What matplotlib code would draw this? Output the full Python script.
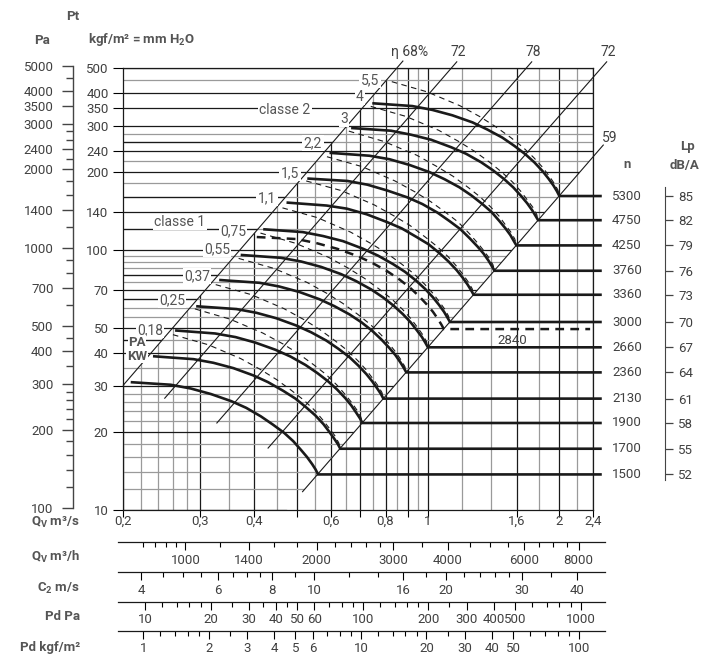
import numpy as np
import matplotlib.pyplot as plt
from matplotlib.path import Path

plt.rcParams['font.family'] = ['Roboto', 'DejaVu Sans']
plt.rcParams['mathtext.fontset'] = 'custom'
plt.rcParams['mathtext.rm'] = 'Roboto:bold'
plt.rcParams['mathtext.it'] = 'Roboto:bold'
plt.rcParams['mathtext.bf'] = 'Roboto:bold'

# ---------------- values ----------------
# rpm curves: flow Q (m3/s) and total pressure Pt (kgf/m2); last point is on the 59 line
q_5300 = [0.746, 0.922, 1.025, 1.139, 1.267, 1.371, 1.484, 1.581, 1.676, 1.757, 1.834, 1.893, 1.943, 1.980, 2.006]
p_5300 = [366, 357, 345, 329, 309, 290, 270, 251, 233, 217, 201, 188, 177, 168, 161]
q_4750 = [0.667, 0.824, 0.916, 1.018, 1.132, 1.225, 1.327, 1.413, 1.498, 1.571, 1.639, 1.692, 1.737, 1.769, 1.793]
p_4750 = [294, 287, 277, 265, 248, 234, 217, 202, 187, 174, 161, 151, 142, 135, 130]
q_4250 = [0.595, 0.735, 0.817, 0.908, 1.009, 1.092, 1.182, 1.259, 1.335, 1.400, 1.461, 1.508, 1.548, 1.577, 1.598]
p_4250 = [236, 230, 223, 212, 199, 187, 174, 162, 150, 140, 129, 121, 114, 108, 104]
q_3760 = [0.529, 0.654, 0.727, 0.808, 0.899, 0.972, 1.053, 1.122, 1.189, 1.247, 1.301, 1.343, 1.379, 1.404, 1.423]
p_3760 = [188, 184, 178, 169, 159, 150, 139, 129, 120, 111, 103, 96.8, 90.9, 86.5, 83.1]
q_3360 = [0.474, 0.586, 0.652, 0.724, 0.805, 0.871, 0.943, 1.005, 1.065, 1.117, 1.165, 1.203, 1.235, 1.258, 1.275]
p_3360 = [152, 148, 144, 137, 128, 121, 112, 105, 97, 90.1, 83.6, 78.2, 73.5, 69.9, 67.2]
q_3000 = [0.419, 0.517, 0.575, 0.639, 0.710, 0.769, 0.832, 0.887, 0.940, 0.986, 1.028, 1.061, 1.090, 1.110, 1.125]
p_3000 = [120, 117, 113, 108, 101, 95, 88.2, 82.3, 76.2, 70.8, 65.7, 61.5, 57.8, 54.9, 52.8]
q_2660 = [0.372, 0.460, 0.512, 0.569, 0.632, 0.684, 0.741, 0.789, 0.836, 0.877, 0.915, 0.944, 0.970, 0.988, 1.001]
p_2660 = [95.6, 93.2, 90.2, 86, 80.7, 75.9, 70.5, 65.7, 60.9, 56.6, 52.5, 49.1, 46.2, 43.9, 42.2]
q_2360 = [0.332, 0.411, 0.456, 0.507, 0.564, 0.610, 0.661, 0.704, 0.746, 0.782, 0.816, 0.843, 0.865, 0.881, 0.893]
p_2360 = [76.6, 74.7, 72.3, 68.9, 64.6, 60.8, 56.5, 52.7, 48.8, 45.3, 42, 39.4, 37, 35.2, 33.8]
q_2130 = [0.294, 0.364, 0.404, 0.449, 0.499, 0.540, 0.585, 0.623, 0.661, 0.693, 0.723, 0.746, 0.766, 0.781, 0.791]
p_2130 = [60.7, 59.2, 57.3, 54.6, 51.2, 48.2, 44.8, 41.7, 38.7, 35.9, 33.3, 31.2, 29.3, 27.9, 26.8]
q_1900 = [0.263, 0.325, 0.362, 0.402, 0.447, 0.484, 0.524, 0.558, 0.591, 0.620, 0.647, 0.668, 0.686, 0.699, 0.708]
p_1900 = [49, 47.7, 46.2, 44, 41.3, 38.9, 36.1, 33.6, 31.2, 29, 26.9, 25.2, 23.6, 22.5, 21.6]
q_1700 = [0.234, 0.290, 0.322, 0.358, 0.398, 0.430, 0.466, 0.497, 0.526, 0.552, 0.576, 0.594, 0.610, 0.622, 0.630]
p_1700 = [39, 38, 36.8, 35.1, 32.9, 31, 28.7, 26.8, 24.8, 23.1, 21.4, 20, 18.8, 17.9, 17.2]
q_1500 = [0.208, 0.257, 0.286, 0.318, 0.354, 0.383, 0.414, 0.441, 0.468, 0.491, 0.512, 0.528, 0.543, 0.553, 0.560]
p_1500 = [31, 30.3, 29.3, 27.9, 26.2, 24.7, 22.9, 21.3, 19.8, 18.4, 17, 16, 15, 14.3, 13.7]
q_2840 = [0.405, 0.501, 0.557, 0.619, 0.688, 0.744, 0.806, 0.858, 0.910, 0.954, 0.995, 1.028, 1.055, 1.075, 1.089]
p_2840 = [112, 110, 106, 101, 94.8, 89.3, 82.9, 77.3, 71.6, 66.5, 61.7, 57.8, 54.3, 51.6, 49.6]

rpm = [5300, 4750, 4250, 3760, 3360, 3000, 2660, 2360, 2130, 1900, 1700, 1500]
lp_dba = [85, 82, 79, 76, 73, 70, 67, 64, 61, 58, 55, 52]
rpm_line_end_q = 2.51
line_2840_end_q = 2.36

# absorbed power curves (thin dashed), labelled in kW
q_kw5_5 = [0.827, 0.996, 1.186, 1.318, 1.434, 1.552, 1.654, 1.753, 1.829, 1.898, 1.948, 1.990, 2.006]
p_kw5_5 = [443, 405, 358, 325, 297, 270, 248, 226, 209, 193, 181, 170, 161]
q_kw4 = [0.740, 0.890, 1.060, 1.178, 1.282, 1.388, 1.479, 1.567, 1.635, 1.696, 1.742, 1.779, 1.793]
p_kw4 = [356, 326, 288, 261, 239, 217, 199, 182, 168, 155, 146, 137, 130]
q_kw3 = [0.659, 0.793, 0.944, 1.050, 1.142, 1.237, 1.318, 1.396, 1.457, 1.512, 1.552, 1.585, 1.598]
p_kw3 = [286, 261, 231, 209, 192, 174, 160, 146, 135, 124, 117, 110, 104]
q_kw2_2 = [0.587, 0.706, 0.841, 0.935, 1.017, 1.101, 1.174, 1.243, 1.297, 1.346, 1.382, 1.412, 1.423]
p_kw2_2 = [228, 209, 184, 167, 153, 139, 128, 116, 107, 99.2, 93.3, 87.6, 83.1]
q_kw1_5 = [0.526, 0.633, 0.753, 0.837, 0.911, 0.987, 1.051, 1.114, 1.162, 1.206, 1.238, 1.265, 1.275]
p_kw1_5 = [184, 169, 149, 135, 124, 112, 103, 94.1, 86.9, 80.3, 75.4, 70.9, 67.2]
q_kw1_1 = [0.464, 0.558, 0.665, 0.739, 0.804, 0.871, 0.928, 0.983, 1.026, 1.064, 1.093, 1.116, 1.125]
p_kw1_1 = [145, 133, 117, 106, 97.3, 88.2, 81.1, 73.9, 68.3, 63.1, 59.3, 55.7, 52.8]
q_kw0_75 = [0.413, 0.497, 0.592, 0.658, 0.716, 0.775, 0.826, 0.875, 0.913, 0.947, 0.972, 0.993, 1.001]
p_kw0_75 = [116, 106, 93.6, 84.9, 77.7, 70.5, 64.8, 59.1, 54.6, 50.4, 47.4, 44.5, 42.2]
q_kw0_55 = [0.368, 0.443, 0.528, 0.587, 0.638, 0.691, 0.736, 0.780, 0.814, 0.845, 0.867, 0.886, 0.893]
p_kw0_55 = [92.7, 84.9, 75, 68, 62.3, 56.5, 51.9, 47.3, 43.7, 40.4, 37.9, 35.6, 33.8]
q_kw0_37 = [0.326, 0.393, 0.467, 0.520, 0.565, 0.612, 0.652, 0.691, 0.721, 0.748, 0.768, 0.785, 0.791]
p_kw0_37 = [73.5, 67.3, 59.5, 53.9, 49.4, 44.8, 41.2, 37.5, 34.7, 32, 30.1, 28.3, 26.8]
q_kw0_25 = [0.292, 0.351, 0.418, 0.465, 0.506, 0.548, 0.584, 0.619, 0.645, 0.670, 0.688, 0.702, 0.708]
p_kw0_25 = [59.3, 54.2, 47.9, 43.5, 39.8, 36.1, 33.2, 30.2, 27.9, 25.8, 24.2, 22.8, 21.6]
q_kw0_18 = [0.260, 0.313, 0.372, 0.414, 0.450, 0.488, 0.520, 0.551, 0.574, 0.596, 0.612, 0.625, 0.630]
p_kw0_18 = [47.2, 43.2, 38.2, 34.6, 31.7, 28.7, 26.4, 24.1, 22.2, 20.5, 19.3, 18.1, 17.2]
kw_text = ['5,5', '4', '3', '2,2', '1,5', '1,1', '0,75', '0,55', '0,37', '0,25', '0,18']

# efficiency lines (low end, high end)
eta_text = ['\u03b7 68%', '72', '78', '72', '59']
eta_q_low = [0.200, 0.249, 0.328, 0.430, 0.516]
eta_p_low = [30.2, 26.9, 21.6, 17.3, 11.76]
eta_q_high = [0.877, 1.166, 1.733, 2.576, 2.530]
eta_p_high = [531.7, 528.0, 528.0, 528.0, 252.8]

# grid
grid_q_major = [0.2, 0.3, 0.4, 0.5, 0.6, 0.7, 0.8, 0.9, 1.0, 1.6, 2.0, 2.4]
grid_q_minor = [0.22, 0.24, 0.26, 0.28, 0.35, 0.45, 0.55, 0.65, 0.75, 0.85, 0.95, 1.2, 1.4, 1.8, 2.2]
grid_p_major = [10, 20, 30, 40, 50, 70, 100, 140, 200, 240, 300, 350, 400, 500]
grid_p_minor = [12, 14, 16, 18, 22, 24, 26, 28, 35, 45, 55, 60, 65, 75, 80, 85, 90, 95,
                120, 160, 180, 220, 260, 280, 450]
label_line_p = [260, 160, 120, 80, 65, 45]

q_ticks = [0.2, 0.3, 0.4, 0.5, 0.6, 0.7, 0.8, 0.9, 1.0, 1.6, 2.0, 2.4]
q_tick_text = ['0,2', '0,3', '0,4', '', '0,6', '', '0,8', '', '1', '1,6', '2', '2,4']
p_ticks = [10, 20, 30, 40, 50, 70, 100, 140, 200, 240, 300, 350, 400, 500]

kgf_to_pa = 9.81
pa_major = [100, 200, 300, 400, 500, 700, 1000, 1400, 2000, 2400, 3000, 3500, 4000, 5000]
pa_minor = [120, 140, 160, 180, 220, 240, 260, 280, 350, 450, 600, 800, 900,
            1200, 1600, 1800, 2200, 2600, 2800, 4500]

# bottom scales
m3h_per_m3s = 3600
c2_per_m3s = 18.2
half_rho = 0.6
m3h_major = [1000, 1400, 2000, 3000, 4000, 6000, 8000]
m3h_minor = [800, 850, 900, 950, 1200, 1600, 1800, 2200, 2400, 2600, 2800, 3500,
             4500, 5000, 5500, 6500, 7000, 7500]
c2_major = [4, 6, 8, 10, 16, 20, 30, 40]
c2_minor = [4.5, 5, 5.5, 6.5, 7, 7.5, 9, 12, 14, 18, 22, 24, 26, 28, 35]
pd_major = [10, 20, 30, 40, 50, 60, 100, 200, 300, 400, 500, 1000]
pd_minor = [12, 14, 16, 18, 25, 35, 45, 70, 80, 90, 120, 140, 160, 180, 250, 600, 700, 800, 900]
pdk_major = [1, 2, 3, 4, 5, 6, 10, 20, 30, 40, 50, 100]
pdk_minor = [1.2, 1.4, 1.6, 1.8, 2.5, 7, 8, 9, 12, 14, 16, 18, 25, 60, 70, 80, 90]

rpm_q = [q_5300, q_4750, q_4250, q_3760, q_3360, q_3000, q_2660, q_2360, q_2130, q_1900, q_1700, q_1500]
rpm_p = [p_5300, p_4750, p_4250, p_3760, p_3360, p_3000, p_2660, p_2360, p_2130, p_1900, p_1700, p_1500]
kw_q = [q_kw5_5, q_kw4, q_kw3, q_kw2_2, q_kw1_5, q_kw1_1, q_kw0_75, q_kw0_55, q_kw0_37, q_kw0_25, q_kw0_18]
kw_p = [p_kw5_5, p_kw4, p_kw3, p_kw2_2, p_kw1_5, p_kw1_1, p_kw0_75, p_kw0_55, p_kw0_37, p_kw0_25, p_kw0_18]

# ---------------- layout ----------------
W, H = 701, 655
X0, X1, Y0, Y1 = 123.3, 593.3, 510.0, 68.0
Q_MIN, Q_MAX, P_MIN, P_MAX = 0.2, 2.4, 10, 500
INK = '#1a1a1a'
GREY = '#9a9a9a'
TXT = '#404040'
HEAD = '#555555'


def box(x0, y0, x1, y1):
    return [x0 / W, 1 - y1 / H, (x1 - x0) / W, (y1 - y0) / H]


def q_at(x):
    return Q_MIN * (Q_MAX / Q_MIN) ** ((x - X0) / (X1 - X0))


def p_at(y):
    return P_MIN * (P_MAX / P_MIN) ** ((Y0 - y) / (Y0 - Y1))


def ftext(x, y, s, **kw):
    kw.setdefault('color', TXT)
    kw.setdefault('fontsize', 9.5)
    kw.setdefault('va', 'center')
    fig.text(x / W, 1 - y / H, s, **kw)


def along(i, p):
    s = np.log(eta_p_high[i] / eta_p_low[i]) / np.log(eta_q_high[i] / eta_q_low[i])
    return eta_q_low[i] * (p / eta_p_low[i]) ** (1 / s)


fig = plt.figure(figsize=(W / 100, H / 100), dpi=100)
ax = fig.add_axes(box(X0, Y1, X1, Y0))
ax.set_xscale('log')
ax.set_yscale('log')
ax.set_xlim(Q_MIN, Q_MAX)
ax.set_ylim(P_MIN, P_MAX)
for s in ax.spines.values():
    s.set_linewidth(0.9)
    s.set_color(INK)
ax.set_xticks(q_ticks)
ax.set_xticklabels(q_tick_text)
ax.set_yticks(p_ticks)
ax.set_yticklabels([str(v) for v in p_ticks])
ax.minorticks_off()
ax.tick_params(axis='x', length=5, width=0.8, pad=-1.5, labelsize=9.5, labelcolor=TXT)
ax.tick_params(axis='y', length=7.2, width=0.8, pad=3.4, labelsize=9.5, labelcolor=TXT)

# the grid stops at the 68% line (verticals) and at the 59 line (horizontals)
lo, hi = 1.0, 3000.0
right_of_68 = Path([(along(0, lo), lo), (along(0, hi), hi), (20, hi), (20, lo)])
left_of_68 = Path([(0.01, lo), (along(0, lo), lo), (along(0, hi), hi), (0.01, hi)])
left_of_59 = Path([(0.01, lo), (along(4, lo), lo), (along(4, hi), hi), (0.01, hi)])

for qs, col in ((grid_q_minor, GREY), (grid_q_major, INK)):
    lc = ax.vlines(qs, P_MIN, P_MAX, colors=col, lw=0.9)
    lc.set_clip_path(right_of_68, ax.transData)
for ps, col in ((grid_p_minor, GREY), (grid_p_major, INK)):
    lc = ax.hlines(ps, Q_MIN, Q_MAX, colors=col, lw=0.9)
    lc.set_clip_path(left_of_59, ax.transData)
lc = ax.hlines(label_line_p, Q_MIN, Q_MAX, colors=INK, lw=0.9)
lc.set_clip_path(left_of_68, ax.transData)

# efficiency lines
for i in range(len(eta_text)):
    ax.plot([eta_q_low[i], eta_q_high[i]], [eta_p_low[i], eta_p_high[i]],
            color=INK, lw=0.8, clip_on=False, zorder=3)
eta_text_xy = [(410, 52), (458, 52), (533, 52), (608, 52), (610, 138)]
for t, (x, y) in zip(eta_text, eta_text_xy):
    ftext(x, y, t, ha='center', fontsize=10)

# absorbed power curves
for qs, ps in zip(kw_q, kw_p):
    ax.plot(qs, ps, color=INK, lw=0.8, dashes=(5, 4), zorder=3)

# rpm curves with their horizontal run to the rpm label
for n, qs, ps in zip(rpm, rpm_q, rpm_p):
    ax.plot(qs + [rpm_line_end_q], ps + [ps[-1]], color=INK, lw=1.9, zorder=4,
            clip_on=False, solid_joinstyle='miter', solid_capstyle='butt')
    ax.annotate(str(n), xy=(612, ps[-1]), xycoords=('figure pixels', 'data'),
                va='center', ha='left', fontsize=9.5, color=TXT)

ax.plot(q_2840 + [line_2840_end_q], p_2840 + [p_2840[-1]], color=INK, lw=1.8,
        dashes=(3.5, 2.5), zorder=4)
ftext(512, 340, '2840', ha='center')

# power labels on the left
kw_xy = [(370, 80), (360, 97), (344, 119), (313, 143), (290, 173), (267, 198),
         (233, 231), (217, 249), (197, 276), (172, 300), (150, 330)]
for t, (x, y) in zip(kw_text, kw_xy):
    ftext(x, y, t, ha='center', color=HEAD, fontsize=10,
          bbox=dict(fc='white', ec='none', pad=1.0))
ftext(285, 110, 'classe 2', ha='center', color=HEAD, fontsize=10,
      bbox=dict(fc='white', ec='none', pad=1.0))
ftext(180, 222, 'classe 1', ha='center', color=HEAD, fontsize=10,
      bbox=dict(fc='white', ec='none', pad=1.0))
ftext(137, 342, 'PA', ha='center', color=HEAD, fontsize=9.5, fontweight='bold',
      bbox=dict(fc='white', ec='none', pad=0.5))
ftext(137, 356, 'KW', ha='center', color=HEAD, fontsize=9.5, fontweight='bold',
      bbox=dict(fc='white', ec='none', pad=0.5))

# Pa axis on the far left
ax_pa = fig.add_axes(box(73, 60, 74, 515))
ax_pa.set_yscale('log')
ax_pa.set_ylim(kgf_to_pa * p_at(515), kgf_to_pa * p_at(60))
ax_pa.patch.set_visible(False)
for k in ('top', 'right', 'bottom'):
    ax_pa.spines[k].set_visible(False)
ax_pa.spines['left'].set_bounds(100, 5000)
ax_pa.spines['left'].set_color('#444444')
ax_pa.spines['left'].set_linewidth(1.0)
ax_pa.set_xticks([])
ax_pa.set_yticks(pa_major)
ax_pa.set_yticklabels([str(v) for v in pa_major])
ax_pa.set_yticks(pa_minor, minor=True)
ax_pa.yaxis.set_minor_formatter(plt.NullFormatter())
ax_pa.tick_params(axis='y', which='major', length=8, width=1.0, pad=6, labelsize=9.5,
                  labelcolor=TXT, color='#444444')
ax_pa.tick_params(axis='y', which='minor', length=5, width=1.0, color='#444444')

# Lp axis on the right
line_p = [ps[-1] for ps in rpm_p]
ax_lp = fig.add_axes(box(600, Y1, 665, Y0))
ax_lp.set_yscale('log')
ax_lp.set_ylim(P_MIN, P_MAX)
ax_lp.patch.set_visible(False)
for k in ('top', 'left', 'bottom'):
    ax_lp.spines[k].set_visible(False)
ax_lp.spines['right'].set_bounds(13.0, 174.0)
ax_lp.spines['right'].set_color('#444444')
ax_lp.set_xticks([])
ax_lp.yaxis.tick_right()
ax_lp.set_yticks(line_p)
ax_lp.set_yticklabels([str(v) for v in lp_dba])
ax_lp.minorticks_off()
ax_lp.tick_params(axis='y', length=5.8, width=0.9, pad=3.6, labelsize=9.5,
                  labelcolor=TXT, color='#444444')

# bottom scales
q_lo, q_hi = q_at(118), q_at(605)
rows = [
    (541.7, lambda q: q * m3h_per_m3s, m3h_major, m3h_minor),
    (571.7, lambda q: q * c2_per_m3s, c2_major, c2_minor),
    (601.0, lambda q: half_rho * (q * c2_per_m3s) ** 2, pd_major, pd_minor),
    (630.0, lambda q: half_rho * (q * c2_per_m3s) ** 2 / kgf_to_pa, pdk_major, pdk_minor),
]
for y, conv, major, minor in rows:
    r = fig.add_axes(box(118, y - 0.5, 605, y + 0.5))
    r.set_xscale('log')
    r.set_xlim(conv(q_lo), conv(q_hi))
    r.patch.set_visible(False)
    for k in ('top', 'left', 'right'):
        r.spines[k].set_visible(False)
    r.spines['bottom'].set_linewidth(0.9)
    r.spines['bottom'].set_color(INK)
    r.set_yticks([])
    r.set_xticks(major)
    r.set_xticklabels([str(v) for v in major])
    r.set_xticks(minor, minor=True)
    r.xaxis.set_minor_formatter(plt.NullFormatter())
    r.tick_params(axis='x', which='major', length=6, width=0.8, pad=2.5, labelsize=9.5,
                  labelcolor=TXT)
    r.tick_params(axis='x', which='minor', length=3.5, width=0.8)

# headers
bold = dict(color=HEAD, fontweight='bold', fontsize=9.5)
ftext(73, 17, 'Pt', ha='center', **bold)
ftext(42, 40, 'Pa', ha='center', **bold)
ftext(88, 40, 'kgf/m\u00b2 = mm H$_{\\rm 2}$O', ha='left', **bold)
ftext(80, 522, 'Q$_{\\rm V}$ m\u00b3/s', ha='right', **bold)
ftext(80, 557, 'Q$_{\\rm V}$ m\u00b3/h', ha='right', **bold)
ftext(80, 588, 'C$_{\\rm 2}$ m/s', ha='right', **bold)
ftext(80, 617, 'Pd Pa', ha='right', **bold)
ftext(80, 647, 'Pd kgf/m\u00b2', ha='right', **bold)
ftext(627, 165, 'n', ha='center', **bold)
ftext(687, 147, 'Lp', ha='center', **bold)
ftext(684, 165, 'dB/A', ha='center', **bold)

fig.savefig('out.png', dpi=100)
